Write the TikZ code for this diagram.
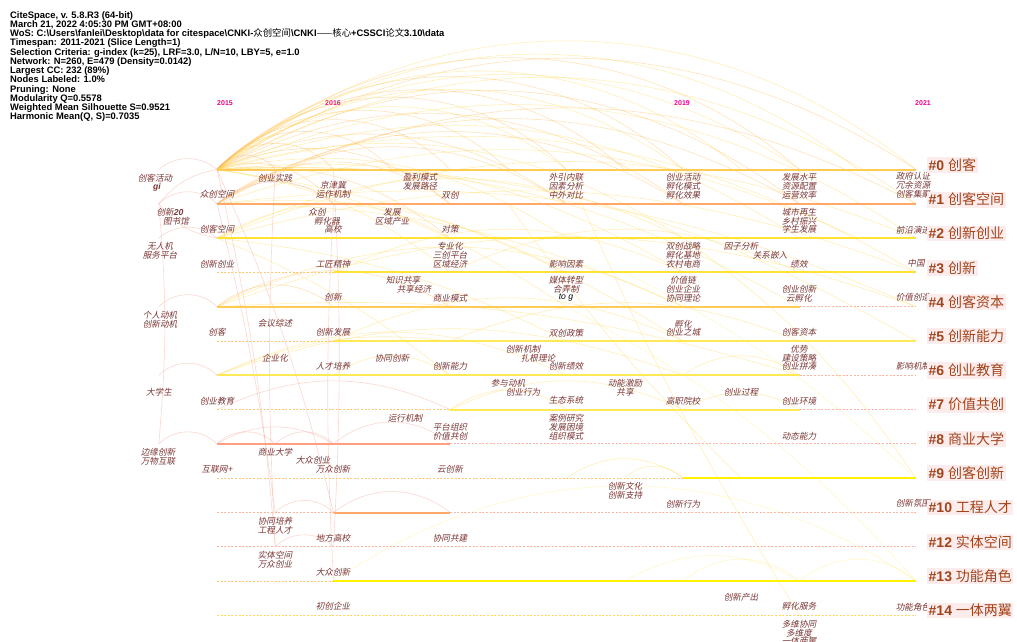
\documentclass[tikz,border=0pt]{standalone}
\usepackage{fontspec}
\setmainfont{Liberation Sans}
\newfontfamily\cjk{Noto Sans CJK SC}
\newfontfamily\cjkit[FakeSlant=0.2]{Noto Sans CJK SC}
\newcommand\hdrfont{\bfseries\fontsize{9.4}{9.25}\selectfont\lineskiplimit=-20pt\relax\lineskip=0pt\relax}
\definecolor{kwcol}{HTML}{7A3535}
\definecolor{clcol}{HTML}{A0441C}
\definecolor{clbg}{HTML}{FDECEC}
\definecolor{arcR}{HTML}{F29A88}
\definecolor{arcO}{HTML}{FFB84A}
\definecolor{arcY}{HTML}{FFD84A}
\definecolor{arcL}{HTML}{FFF07A}
\definecolor{lnA}{HTML}{FFCB55}
\definecolor{lnO}{HTML}{FFA868}
\definecolor{lnY}{HTML}{FFE233}
\definecolor{lnY2}{HTML}{FFEA55}
\definecolor{lnB}{HTML}{FFF200}
\definecolor{lnR}{HTML}{FF9F80}
\definecolor{dsO}{HTML}{FFC878}
\definecolor{dsP}{HTML}{FFB4A2}
\definecolor{dsY}{HTML}{FFD860}
\tikzset{
  solidline/.style={line width=2pt},
  dashline/.style={line width=0.9pt, dash pattern=on 2pt off 1.6pt},
  arc/.style={line width=0.6pt, opacity=0.38},
  kw/.style={font=\cjkit\fontsize{8.6}{8.6}\selectfont, text=kwcol, inner sep=0pt},
  clab/.style={fill=clbg, text=clcol, inner sep=1.5pt, anchor=west, font=\fontsize{14}{14}\selectfont},
  yearlab/.style={text=magenta, font=\bfseries\fontsize{7}{7}\selectfont, inner sep=0pt},
}
\begin{document}
\begin{tikzpicture}[x=1pt,y=-1pt]
\useasboundingbox (0,0) rectangle (1017,641);
\fill[white] (0,0) rectangle (1017,641);

% grid of node positions (half-year columns, cluster rows)
\foreach \k in {-1,...,12}
  \foreach \r in {0,...,13}
    \coordinate (p\k-\r) at ({217+58.25*\k},{169.5+34.3*\r});

% header
\node[anchor=north west, align=left, inner sep=0pt, font=\hdrfont] (header) at (10,11) {%
CiteSpace, v. 5.8.R3 (64-bit)\\
March 21, 2022 4:05:30 PM GMT+08:00\\
WoS: C:\textbackslash Users\textbackslash fanlei\textbackslash Desktop\textbackslash data for citespace\textbackslash CNKI-{\cjk\mdseries 众创空间}\textbackslash CNKI{\cjk\mdseries ——核心}+CSSCI{\cjk\mdseries 论文}3.10\textbackslash data\\
Timespan: 2011-2021 (Slice Length=1)\\
Selection Criteria: g-index (k=25), LRF=3.0, L/N=10, LBY=5, e=1.0\\
Network: N=260, E=479 (Density=0.0142)\\
Largest CC: 232 (89\%)\\
Nodes Labeled: 1.0\%\\
Pruning: None\\
Modularity Q=0.5578\\
Weighted Mean Silhouette S=0.9521\\
Harmonic Mean(Q, S)=0.7035};

% year labels
\node[yearlab] (y2015) at (225,103) {2015};
\node[yearlab] (y2016) at (333,103) {2016};
\node[yearlab] (y2019) at (682,103) {2019};
\node[yearlab] (y2021) at (923,103) {2021};

% arcs
\foreach \a/\b/\c/\s in {
 p0-0/p12-0/39/arcY, p0-0/p12-0/33/arcO, p0-0/p11-0/38/arcY, p0-0/p10-0/41/arcO,
 p0-0/p10-0/34/arcY, p0-0/p9-0/40/arcY, p0-0/p8-0/43/arcO, p0-0/p8-0/36/arcY,
 p0-0/p7-0/42/arcO, p0-0/p6-0/45/arcO, p0-0/p6-0/38/arcY, p0-0/p5-0/44/arcO,
 p0-0/p4-0/47/arcO, p0-0/p3-0/48/arcO, p0-0/p2-0/50/arcO, p0-0/p1-0/55/arcR,
 p0-0/p12-1/32/arcY, p0-0/p10-1/34/arcO, p0-0/p8-1/32/arcO, p0-0/p6-1/30/arcO,
 p0-0/p4-1/32/arcO, p0-0/p2-1/35/arcO, p0-0/p12-2/28/arcY, p0-0/p10-2/26/arcY,
 p0-0/p8-2/24/arcY, p0-0/p6-2/22/arcY, p0-0/p4-2/22/arcO, p0-0/p12-3/22/arcY,
 p0-0/p8-3/18/arcY, p0-0/p4-3/15/arcY, p0-0/p10-4/16/arcY, p0-0/p6-4/12/arcY,
 p0-0/p12-5/16/arcY, p0-0/p8-5/12/arcY,
 p0-1/p12-1/28/arcO, p0-1/p10-1/30/arcO, p0-1/p8-1/32/arcO, p0-1/p6-1/34/arcO,
 p0-1/p4-1/38/arcO, p0-1/p2-1/40/arcR, p0-1/p11-2/22/arcY, p0-1/p6-3/16/arcY,
 p0-1/p8-4/12/arcY, p0-1/p12-4/15/arcY,
 p0-2/p12-2/22/arcY, p0-2/p8-2/26/arcY, p0-2/p4-2/30/arcY, p0-2/p12-3/18/arcY,
 p0-2/p6-5/10/arcY, p0-2/p4-6/8/arcY,
 p0-4/p4-4/32/arcO, p0-4/p8-4/26/arcY, p0-4/p2-4/40/arcO, p0-4/p12-4/20/arcY,
 p0-4/p10-6/10/arcY,
 p2-3/p8-3/25/arcY, p4-3/p10-3/25/arcY, p2-5/p8-5/25/arcY, p4-5/p10-5/22/arcY,
 p0-6/p6-6/25/arcY, p0-6/p4-5/15/arcY, p0-6/p8-6/20/arcY, p2-6/p4-6/35/arcY,
 p8-6/p10-6/35/arcY, p4-7/p8-7/25/arcY, p4-7/p6-7/35/arcY, p8-7/p10-7/30/arcY,
 p0-8/p1-8/45/arcR, p1-8/p2-8/45/arcR, p0-8/p2-8/30/arcR, p2-8/p4-8/40/arcR,
 p0-7/p4-7/25/arcR, p7-9/p8-9/45/arcY, p6-9/p8-9/35/arcY,
 p1-10/p2-10/45/arcR, p2-10/p4-10/38/arcR, p1-11/p2-11/45/arcR,
 p2-12/p12-12/34/arcL, p8-12/p10-12/40/arcL, p10-12/p12-12/40/arcL, p7-12/p10-12/30/arcL,
 p-1-1/p0-1/45/arcR, p-1-1/p0-0/20/arcR, p-1-1/p0-2/-20/arcR, p-1-4/p0-4/45/arcR,
 p-1-6/p0-6/45/arcR, p-1-8/p0-8/45/arcR, p-1-0/p0-0/40/arcR, p-1-2/p0-2/40/arcR,
 p-1-1/p-1-8/5/arcR, p0-0/p1-11/4/arcR, p0-1/p1-10/3/arcR, p1-0/p1-11/-3/arcR,
 p2-0/p2-11/3/arcR, p2-1/p2-12/-3/arcR, p0-0/p2-10/5/arcR,
 p6-0/p10-13/-4/arcY, p5-1/p9-9/-5/arcY, p8-2/p12-9/10/arcY, p6-4/p12-12/10/arcL,
 p7-3/p12-9/8/arcL}
 {\draw[arc,\s] (\a) to[bend left=\c] (\b);}

% timelines
\draw[solidline,lnA] (p0-0) -- (p12-0);
\draw[solidline,lnO] (p0-1) -- (p12-1);
\draw[solidline,lnY] (p0-2) -- (p12-2);
\draw[dashline,dsO] (p0-3) -- (p2-3);
\draw[solidline,lnY] (p2-3) -- (p12-3);
\draw[solidline,lnA] (p0-4) -- (p10-4);
\draw[dashline,dsP] (p10-4) -- (p12-4);
\draw[dashline,dsO] (p0-5) -- (p2-5);
\draw[solidline,lnY2] (p2-5) -- (p12-5);
\draw[solidline,lnY2] (p0-6) -- (p10-6);
\draw[dashline,dsP] (p10-6) -- (p12-6);
\draw[dashline,dsO] (p0-7) -- (p4-7);
\draw[solidline,lnY2] (p4-7) -- (p10-7);
\draw[dashline,dsP] (p10-7) -- (p12-7);
\draw[solidline,lnR] (p0-8) -- (p4-8);
\draw[dashline,dsP] (p4-8) -- (p12-8);
\draw[dashline,dsO] (p0-9) -- (p8-9);
\draw[solidline,lnB] (p8-9) -- (p12-9);
\draw[dashline,dsP] (p0-10) -- (p2-10);
\draw[solidline,lnO] (p2-10) -- (p4-10);
\draw[dashline,dsP] (p4-10) -- (p12-10);
\draw[dashline,dsP] (p0-11) -- (p12-11);
\draw[dashline,dsO] (p0-12) -- (p2-12);
\draw[solidline,lnB] (p2-12) -- (p12-12);
\draw[dashline,dsY] (p0-13) -- (p12-13);

% keyword labels
\foreach \x/\y/\t [count=\i] in {
 155/178/创客活动, 176/221/图书馆, 160/246/无人机, 160/255/服务平台,
 160/315/个人动机, 160/324/创新动机, 159/392/大学生, 158/452/边缘创新, 158/461/万物互联,
 217/194/众创空间, 217/229/创客空间, 217/264/创新创业, 217/332/创客, 217/401/创业教育, 217/469/互联网+,
 275/178/创业实践, 275/323/会议综述, 275/358/企业化, 275/452/商业大学,
 275/521/协同培养, 275/530/工程人才, 275/555/实体空间, 275/564/万众创业,
 333/185/京津冀, 333/194/运作机制, 317/212/众创, 327/221/孵化器, 333/229/高校,
 333/264/工匠精神, 333/297/创新, 333/332/创新发展, 333/366/人才培养,
 313/460/大众创业, 333/469/万众创新, 333/538/地方高校, 333/572/大众创新, 333/606/初创企业,
 420/177/盈利模式, 420/186/发展路径, 450/195/双创, 392/212/发展, 392/221/区域产业,
 450/229/对策, 450/246/专业化, 450/255/三创平台, 450/264/区域经济,
 403/280/知识共享, 414/289/共享经济, 450/298/商业模式, 392/358/协同创新, 450/366/创新能力,
 405/418/运行机制, 450/427/平台组织, 450/436/价值共创, 450/469/云创新, 450/538/协同共建,
 566/177/外引内联, 566/186/因素分析, 566/195/中外对比, 566/264/影响因素,
 566/280/媒体转型, 566/289/合弄制, 566/333/双创政策,
 523/349/创新机制, 538/358/扎根理论, 566/366/创新绩效,
 508/383/参与动机, 523/392/创业行为, 566/400/生态系统,
 566/418/案例研究, 566/427/发展困境, 566/436/组织模式,
 625/383/动能激励, 625/392/共享, 625/486/创新文化, 625/495/创新支持,
 683/177/创业活动, 683/186/孵化模式, 683/195/孵化效果,
 683/246/双创战略, 683/255/孵化基地, 683/264/农村电商,
 683/280/价值链, 683/289/创业企业, 683/298/协同理论,
 683/324/孵化, 683/332/创业之城, 683/401/高职院校, 683/504/创新行为,
 741/246/因子分析, 770/255/关系嵌入, 741/392/创业过程, 741/597/创新产出,
 799/177/发展水平, 799/186/资源配置, 799/195/运营效率,
 799/212/城市再生, 799/221/乡村振兴, 799/229/学生发展, 799/264/绩效,
 799/289/创业创新, 799/298/云孵化, 799/332/创客资本,
 799/349/优势, 799/358/建设策略, 799/366/创业拼凑, 799/401/创业环境, 799/436/动态能力,
 799/606/孵化服务, 799/624/多维协同, 799/633/多维度, 799/641/一体两翼,
 913/176/政府认证, 913/185/冗余资源, 913/194/创客集聚, 913/230/前沿演进, 916/263/中国,
 913/297/价值创造, 913/366/影响机制, 913/503/创新氛围, 913/607/功能角色}
 {\node[kw] (kw\i) at (\x,\y) {\t};}
\node[kw, font=\bfseries\itshape\fontsize{8.6}{8.6}\selectfont] (kwgi) at (157,187) {gi};
\node[kw] (kw20) at (170,212) {创新{\normalfont\bfseries\itshape 20}};
\node[kw, font=\itshape\fontsize{8.6}{8.6}\selectfont, text=black] (kwtog) at (566,298) {to g};

% cluster labels
\node[clab] (c0) at (927,165) {\textbf{\#0} {\cjk 创客}};
\node[clab] (c1) at (927,199.5) {\textbf{\#1} {\cjk 创客空间}};
\node[clab] (c2) at (927,233.5) {\textbf{\#2} {\cjk 创新创业}};
\node[clab] (c3) at (927,268) {\textbf{\#3} {\cjk 创新}};
\node[clab] (c4) at (927,302) {\textbf{\#4} {\cjk 创客资本}};
\node[clab] (c5) at (927,336) {\textbf{\#5} {\cjk 创新能力}};
\node[clab] (c6) at (927,370.5) {\textbf{\#6} {\cjk 创业教育}};
\node[clab] (c7) at (927,404.5) {\textbf{\#7} {\cjk 价值共创}};
\node[clab] (c8) at (927,439) {\textbf{\#8} {\cjk 商业大学}};
\node[clab] (c9) at (927,473) {\textbf{\#9} {\cjk 创客创新}};
\node[clab] (c10) at (927,507.5) {\textbf{\#10} {\cjk 工程人才}};
\node[clab] (c12) at (927,542) {\textbf{\#12} {\cjk 实体空间}};
\node[clab] (c13) at (927,576) {\textbf{\#13} {\cjk 功能角色}};
\node[clab] (c14) at (927,610.5) {\textbf{\#14} {\cjk 一体两翼}};
\end{tikzpicture}
\end{document}
